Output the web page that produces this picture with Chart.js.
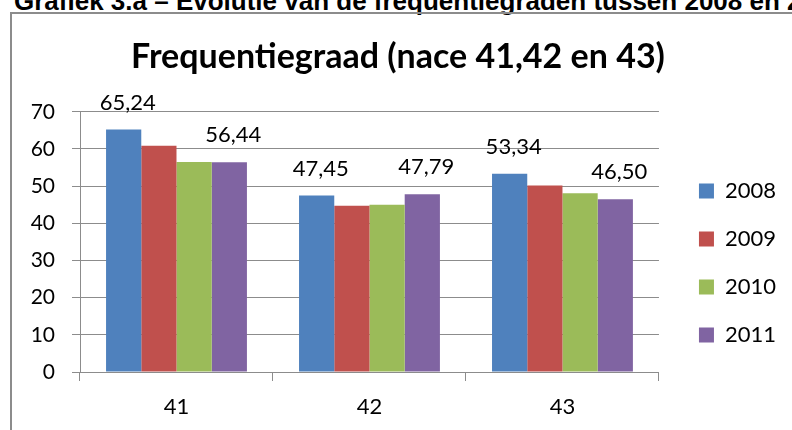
<!DOCTYPE html>
<html>
<head>
<meta charset="utf-8">
<script src="https://cdn.jsdelivr.net/npm/chart.js@4"></script>
<style>
  html, body { margin: 0; padding: 0; background: #fff; }
  body { width: 792px; height: 430px; overflow: hidden; position: relative; }
  #caption {
    position: absolute; left: 14px; top: -12px; white-space: nowrap;
    font: bold 26px "Liberation Sans", Arial, sans-serif; line-height: 26px; color: #000;
  }
  #frame {
    position: absolute; left: 10px; top: 12px; width: 820px; height: 460px;
    border: 2px solid #8c8c8c; box-sizing: border-box;
  }
  #chart { position: absolute; left: 0; top: 0; }
</style>
</head>
<body>
<div id="caption">Grafiek 3.a – Evolutie van de frequentiegraden tussen 2008 en 2011</div>
<div id="frame"></div>
<canvas id="chart" width="792" height="430"></canvas>
<script>
// categories (nace codes) en jaren
const naceCodes = ['41', '42', '43'];
const years = ['2008', '2009', '2010', '2011'];

// frequentiegraad per jaar
const freq2008 = [65.24, 47.45, 53.34];
const freq2009 = [60.9, 44.7, 50.2];
const freq2010 = [56.5, 45.0, 48.1];
const freq2011 = [56.44, 47.79, 46.50];

const yTicks = [0, 10, 20, 30, 40, 50, 60, 70];

const colors = ['#4F81BD', '#C0504D', '#9BBB59', '#8064A2'];
const showValues = [true, false, false, true]; // alleen 2008 en 2011 hebben labels

const series = [freq2008, freq2009, freq2010, freq2011];
const gridGray = '#8c8c8c';

// waardelabels boven de staven (komma als decimaalteken)
const valueLabels = {
  id: 'valueLabels',
  afterDatasetsDraw(chart) {
    const ctx = chart.ctx;
    ctx.save();
    ctx.font = '22px Lato';
    ctx.fillStyle = '#000';
    ctx.textAlign = 'center';
    ctx.textBaseline = 'middle';
    chart.data.datasets.forEach((ds, i) => {
      if (!showValues[i]) return;
      chart.getDatasetMeta(i).data.forEach((bar, j) => {
        const txt = ds.data[j].toFixed(2).replace('.', ',');
        ctx.fillText(txt, bar.x + 4, bar.y - 27);
      });
    });
    ctx.restore();
  }
};

new Chart(document.getElementById('chart'), {
  type: 'bar',
  data: {
    labels: naceCodes,
    datasets: years.map((y, i) => ({
      label: y,
      data: series[i],
      backgroundColor: colors[i],
      borderWidth: 0,
      categoryPercentage: 0.73,
      barPercentage: 1
    }))
  },
  options: {
    responsive: false,
    animation: false,
    devicePixelRatio: 1,
    layout: { padding: { left: 10, right: 6, top: 0, bottom: 0 } },
    scales: {
      x: {
        grid: { display: true, drawOnChartArea: false, drawTicks: true, tickLength: 9, offset: true, color: gridGray },
        border: { color: gridGray },
        ticks: { font: { family: 'Lato', size: 22 }, color: '#000', padding: 13 },
        afterFit: s => { s.height = 58; }
      },
      y: {
        min: 0, max: 70,
        afterBuildTicks: s => { s.ticks = yTicks.map(v => ({ value: v })); },
        grid: { color: gridGray, tickLength: 8 },
        border: { color: gridGray },
        ticks: { font: { family: 'Lato', size: 21 }, color: '#000', padding: 17 },
        afterFit: s => { s.width = 70; }
      },
      gap: {
        position: 'right',
        display: true,
        grid: { display: false },
        border: { display: false },
        ticks: { display: false },
        afterFit: s => { s.width = 14; }
      }
    },
    plugins: {
      title: {
        display: true,
        text: 'Frequentiegraad (nace 41,42 en 43)',
        font: { family: 'Lato', size: 34, weight: 'bold' },
        color: '#000',
        padding: { top: 37, bottom: 34 }
      },
      legend: {
        position: 'right',
        align: 'end',
        fullSize: false,
        labels: {
          boxWidth: 15, boxHeight: 15, padding: 26,
          font: { family: 'Lato', size: 22 }, color: '#000'
        }
      },
      tooltip: { enabled: false }
    }
  },
  plugins: [valueLabels]
});
</script>
</body>
</html>
